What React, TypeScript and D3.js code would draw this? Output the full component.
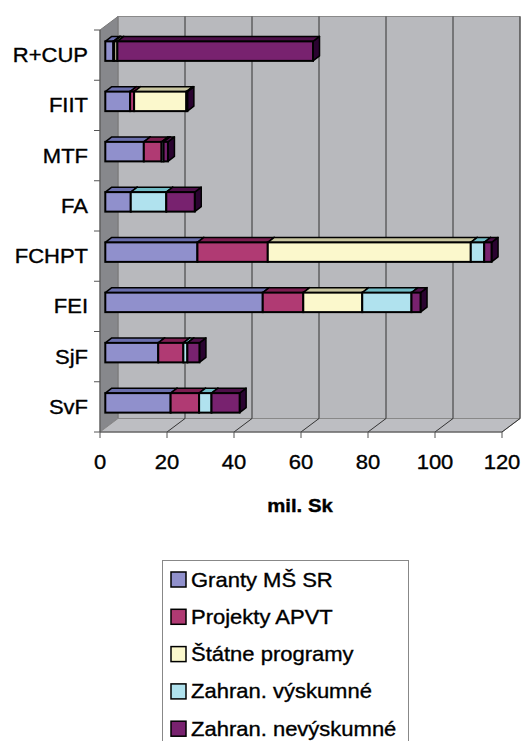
import React from "react";
import * as d3 from "d3";

const categories = ["R+CUP", "FIIT", "MTF", "FA", "FCHPT", "FEI", "SjF", "SvF"];
const seriesNames = ["Granty MŠ SR", "Projekty APVT", "Štátne programy", "Zahran. výskumné", "Zahran. nevýskumné"];
const grantyMS = [2.4, 7.4, 11.5, 7.6, 27.5, 47.0, 15.8, 19.5];
const projektyAPVT = [0.3, 1.2, 5.3, 0, 21.0, 12.1, 7.5, 8.5];
const statnePrograms = [0.9, 15.6, 0, 0, 60.6, 17.6, 0, 0];
const zahrVyskumne = [0, 0, 0.6, 10.6, 4.0, 14.7, 1.2, 3.7];
const zahrNevyskumne = [58.4, 0.3, 1.3, 8.5, 2.2, 2.7, 3.6, 8.4];
const xTicks = [0, 20, 40, 60, 80, 100, 120];
const axisTitle = "mil. Sk";

const colors = ["#9090cc", "#b03a73", "#fbf8cc", "#b0e2ee", "#78226f"];
const topColors = ["#6a6eac", "#7c1e50", "#c9c6a0", "#70bcc6", "#4d0f49"];
const sideColors = ["#3a3c70", "#4a0f30", "#7a7860", "#3a7a84", "#2a0330"];

const FONT = "'Liberation Sans', Arial, sans-serif";
const SX = 1.1;

function T(props: { x: number; y: number; anchor?: string; size?: number; bold?: boolean; children: React.ReactNode }) {
  const { x, y, anchor = "start", size = 20, bold = false, children } = props;
  return (
    <text
      transform={`translate(${x},${y}) scale(${SX},1)`}
      textAnchor={anchor}
      fontFamily={FONT}
      fontSize={size}
      fontWeight={bold ? "bold" : "normal"}
      fill="#000"
      stroke="#000"
      strokeWidth={0.35}
    >
      {children}
    </text>
  );
}

export default function App() {
  const W = 523, H = 741;
  const x = d3.scaleLinear().domain([0, 120]).range([100, 502]);
  const y = d3.scaleBand<string>().domain(categories).range([30, 432]);
  const DX = 18, DY = -13.5; // wall depth
  const bDX = 5.3, bDY = -4; // bar front offset
  const tDX = 6.5, tDY = -5; // bar depth
  const barH = 19.5;

  const rows = categories.map((c, i) => ({
    cat: c,
    s0: grantyMS[i], s1: projektyAPVT[i], s2: statnePrograms[i], s3: zahrVyskumne[i], s4: zahrNevyskumne[i],
  }));
  const keys = ["s0", "s1", "s2", "s3", "s4"];
  const stacked = d3.stack<any>().keys(keys)(rows);

  const y0 = 30, y1 = 432, xL = x(0), xR = x(120);
  const pts = (a: number[][]) => a.map((p) => p.join(",")).join(" ");

  const bars: React.ReactNode[] = [];
  categories.forEach((c, ci) => {
    const cy = (y(c) as number) + y.bandwidth() / 2 + bDY;
    const yt = cy - barH / 2, yb = cy + barH / 2;
    stacked.forEach((layer, si) => {
      const d = layer[ci];
      if (d[1] - d[0] <= 0) return;
      const a = x(d[0]) + bDX, b = x(d[1]) + bDX;
      bars.push(
        <g key={`${ci}-${si}`}>
          <polygon points={pts([[b, yt], [b + tDX, yt + tDY], [b + tDX, yb + tDY], [b, yb]])} fill={sideColors[si]} stroke="#000" strokeWidth={1.5} strokeLinejoin="round" />
          <polygon points={pts([[a, yt], [b, yt], [b + tDX, yt + tDY], [a + tDX, yt + tDY]])} fill={topColors[si]} stroke="#000" strokeWidth={1.5} strokeLinejoin="round" />
          <rect x={a} y={yt} width={b - a} height={barH} fill={colors[si]} stroke="#000" strokeWidth={2} />
        </g>
      );
    });
  });

  return (
    <svg width={W} height={H} style={{ position: "absolute", left: 0, top: 0, background: "#fff" }}>
      {/* back wall */}
      <rect x={xL + DX} y={y0 + DY} width={xR - xL} height={y1 - y0} fill="#b8b9bd" stroke="#8a8a8a" strokeWidth={1} />
      {/* left wall */}
      <polygon points={pts([[xL, y0], [xL + DX, y0 + DY], [xL + DX, y1 + DY], [xL, y1]])} fill="#87888c" stroke="#777" strokeWidth={1} />
      {/* floor */}
      <polygon points={pts([[xL, y1], [xL + DX, y1 + DY], [xR + DX, y1 + DY], [xR, y1]])} fill="#bdbec2" stroke="#888" strokeWidth={1} />
      {/* gridlines */}
      {xTicks.slice(1).map((t) => (
        <g key={t}>
          <line x1={x(t) + DX} x2={x(t) + DX} y1={y0 + DY} y2={y1 + DY} stroke="#333" strokeWidth={1} />
          <line x1={x(t)} x2={x(t) + DX} y1={y1} y2={y1 + DY} stroke="#333" strokeWidth={1} />
        </g>
      ))}
      {/* axes */}
      <line x1={xL} x2={xL} y1={y0} y2={y1} stroke="#555" strokeWidth={1} />
      <line x1={xL} x2={xR} y1={y1} y2={y1} stroke="#555" strokeWidth={1} />
      {d3.range(categories.length + 1).map((i) => {
        const yy = y0 + i * y.step();
        return <line key={i} x1={xL - 6} x2={xL} y1={yy} y2={yy} stroke="#555" strokeWidth={1} />;
      })}
      {xTicks.map((t) => (
        <line key={t} x1={x(t)} x2={x(t)} y1={y1} y2={y1 + 6} stroke="#555" strokeWidth={1} />
      ))}
      {bars}
      {/* category labels */}
      {categories.map((c) => (
        <T key={c} x={88} y={(y(c) as number) + y.bandwidth() / 2 + 7} anchor="end">{c}</T>
      ))}
      {/* x tick labels */}
      {xTicks.map((t) => (
        <T key={t} x={x(t)} y={469} anchor="middle">{t}</T>
      ))}
      <T x={300} y={512} anchor="middle" size={18.5} bold>{axisTitle}</T>
      {/* legend */}
      <rect x={162.5} y={560.5} width={246} height={200} fill="#fff" stroke="#888" strokeWidth={1} />
      {seriesNames.map((n, i) => {
        const cy = 579.5 + i * 37.3;
        return (
          <g key={n}>
            <rect x={171} y={cy - 7.5} width={15} height={15} fill={colors[i]} stroke="#000" strokeWidth={1.5} />
            <T x={191} y={cy + 7}>{n}</T>
          </g>
        );
      })}
    </svg>
  );
}
